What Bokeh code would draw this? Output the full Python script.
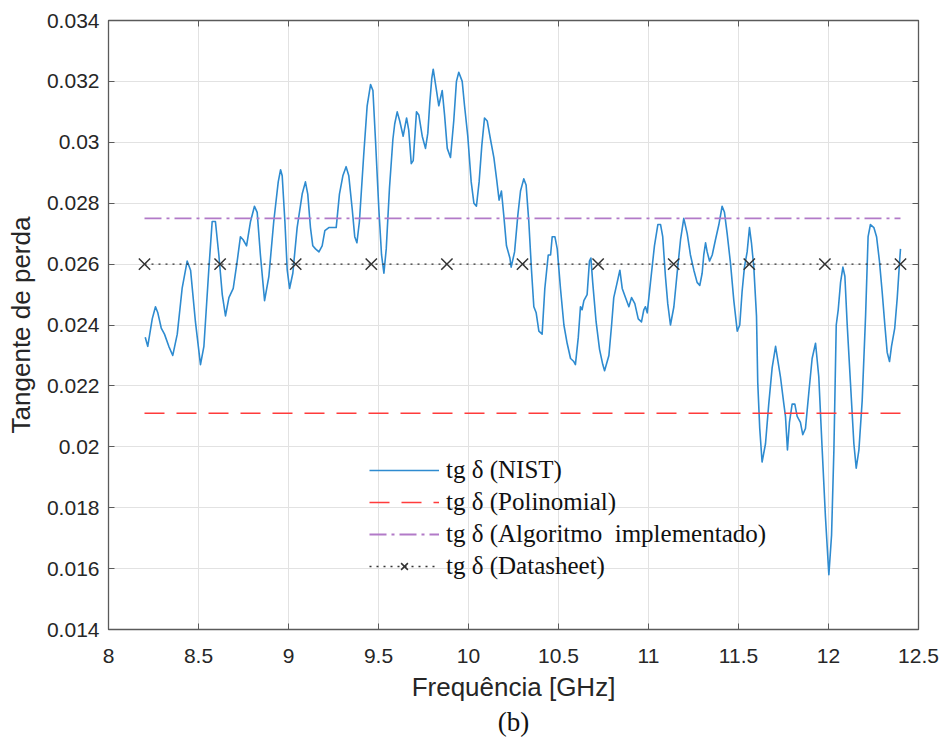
from bokeh.plotting import figure
from bokeh.models import (Range1d, FixedTicker, LinearAxis, CustomJSTickFormatter,
                          Legend, LegendItem, Title)
from bokeh.embed import file_html
from bokeh.resources import INLINE

# ---------------- data ----------------
nist_freq = [8.204, 8.218, 8.243, 8.261, 8.274, 8.293, 8.311, 8.335, 8.357, 8.382,
             8.409, 8.437, 8.456, 8.483, 8.511, 8.530, 8.557, 8.576, 8.594, 8.613,
             8.632, 8.650, 8.669, 8.693, 8.715, 8.733, 8.748, 8.767, 8.789, 8.811,
             8.826, 8.844, 8.867, 8.891, 8.918, 8.943, 8.956, 8.965, 8.980, 8.993,
             9.006, 9.024, 9.048, 9.076, 9.094, 9.107, 9.122, 9.135, 9.150, 9.169,
             9.187, 9.202, 9.224, 9.243, 9.265, 9.283, 9.302, 9.320, 9.335, 9.354,
             9.368, 9.380, 9.394, 9.418, 9.437, 9.456, 9.469, 9.483, 9.502, 9.517,
             9.530, 9.543, 9.561, 9.580, 9.590, 9.604, 9.618, 9.637, 9.656, 9.668,
             9.682, 9.693, 9.711, 9.724, 9.743, 9.761, 9.774, 9.785, 9.796, 9.804,
             9.817, 9.835, 9.854, 9.867, 9.882, 9.900, 9.918, 9.933, 9.946, 9.965,
             9.978, 9.996, 10.015, 10.030, 10.044, 10.059, 10.074, 10.089, 10.104, 10.122,
             10.141, 10.156, 10.170, 10.183, 10.196, 10.211, 10.230, 10.237, 10.256, 10.274,
             10.289, 10.307, 10.320, 10.335, 10.350, 10.363, 10.376, 10.391, 10.409, 10.424,
             10.443, 10.456, 10.465, 10.480, 10.493, 10.511, 10.530, 10.548, 10.567, 10.585,
             10.594, 10.610, 10.622, 10.631, 10.641, 10.659, 10.672, 10.680, 10.690, 10.709,
             10.728, 10.746, 10.756, 10.780, 10.795, 10.807, 10.826, 10.841, 10.854, 10.872,
             10.891, 10.906, 10.924, 10.943, 10.961, 10.974, 10.983, 10.993, 11.011, 11.033,
             11.052, 11.067, 11.079, 11.094, 11.107, 11.122, 11.141, 11.159, 11.178, 11.196,
             11.215, 11.233, 11.252, 11.270, 11.285, 11.298, 11.307, 11.317, 11.326, 11.339,
             11.354, 11.372, 11.391, 11.409, 11.422, 11.437, 11.456, 11.474, 11.493, 11.507,
             11.520, 11.533, 11.548, 11.561, 11.572, 11.585, 11.600, 11.607, 11.618, 11.631,
             11.650, 11.668, 11.687, 11.706, 11.733, 11.752, 11.761, 11.772, 11.783, 11.798,
             11.813, 11.826, 11.844, 11.857, 11.872, 11.891, 11.909, 11.928, 11.946, 11.965,
             11.983, 12.002, 12.017, 12.030, 12.043, 12.054, 12.067, 12.080, 12.091, 12.104,
             12.122, 12.141, 12.154, 12.169, 12.187, 12.206, 12.220, 12.233, 12.252, 12.267,
             12.283, 12.298, 12.313, 12.326, 12.339, 12.350, 12.368, 12.382, 12.394, 12.400]

nist_tan = [0.0236, 0.0233, 0.0242, 0.0246, 0.0244, 0.0239, 0.0237, 0.0233, 0.0230, 0.0237,
            0.0252, 0.0261, 0.0258, 0.0241, 0.0227, 0.0233, 0.0258, 0.0274, 0.0274, 0.0263,
            0.0250, 0.0243, 0.0249, 0.0252, 0.0261, 0.0269, 0.0268, 0.0266, 0.0274, 0.0279,
            0.0277, 0.0263, 0.0248, 0.0256, 0.0274, 0.0287, 0.0291, 0.0289, 0.0274, 0.0258,
            0.0252, 0.0257, 0.0272, 0.0283, 0.0287, 0.0283, 0.0272, 0.0266, 0.0265, 0.0264,
            0.0266, 0.0271, 0.0272, 0.0272, 0.0272, 0.0283, 0.0289, 0.0292, 0.0289, 0.0278,
            0.0269, 0.0267, 0.0274, 0.0296, 0.0312, 0.0319, 0.0317, 0.0301, 0.0278, 0.0263,
            0.0257, 0.0265, 0.0285, 0.0301, 0.0306, 0.0310, 0.0307, 0.0302, 0.0308, 0.0304,
            0.0293, 0.0294, 0.0310, 0.0309, 0.0302, 0.0298, 0.0303, 0.0313, 0.0321, 0.0324,
            0.0319, 0.0312, 0.0317, 0.0309, 0.0298, 0.0295, 0.0307, 0.0320, 0.0323, 0.0320,
            0.0312, 0.0302, 0.0287, 0.0280, 0.0279, 0.0287, 0.0299, 0.0308, 0.0307, 0.0301,
            0.0295, 0.0288, 0.0281, 0.0284, 0.0276, 0.0266, 0.0262, 0.0259, 0.0264, 0.0276,
            0.0284, 0.0288, 0.0286, 0.0274, 0.0258, 0.0246, 0.0244, 0.0238, 0.0237, 0.0252,
            0.0263, 0.0263, 0.0269, 0.0269, 0.0265, 0.0252, 0.0240, 0.0234, 0.0229, 0.0228,
            0.0227, 0.0236, 0.0246, 0.0245, 0.0248, 0.0250, 0.0261, 0.0262, 0.0254, 0.0241,
            0.0232, 0.0227, 0.0225, 0.0230, 0.0240, 0.0249, 0.0254, 0.0258, 0.0252, 0.0249,
            0.0246, 0.0249, 0.0247, 0.0242, 0.0241, 0.0245, 0.0246, 0.0244, 0.0254, 0.0266,
            0.0273, 0.0273, 0.0269, 0.0256, 0.0247, 0.0240, 0.0246, 0.0257, 0.0268, 0.0275,
            0.0270, 0.0263, 0.0258, 0.0254, 0.0253, 0.0257, 0.0263, 0.0267, 0.0264, 0.0261,
            0.0263, 0.0268, 0.0273, 0.0279, 0.0277, 0.0270, 0.0260, 0.0248, 0.0238, 0.0240,
            0.0251, 0.0259, 0.0264, 0.0272, 0.0267, 0.0259, 0.0243, 0.0221, 0.0206, 0.0195,
            0.0201, 0.0214, 0.0226, 0.0233, 0.0223, 0.0214, 0.0210, 0.0199, 0.0208, 0.0214,
            0.0214, 0.0210, 0.0208, 0.0204, 0.0206, 0.0218, 0.0229, 0.0234, 0.0223, 0.0199,
            0.0177, 0.0158, 0.0171, 0.0199, 0.0240, 0.0245, 0.0254, 0.0259, 0.0256, 0.0240,
            0.0221, 0.0201, 0.0193, 0.0199, 0.0215, 0.0243, 0.0269, 0.0273, 0.0272, 0.0269,
            0.0261, 0.0251, 0.0240, 0.0231, 0.0228, 0.0233, 0.0239, 0.0249, 0.0260, 0.0265]

poly_freq = [8.2, 12.4]
poly_tan = [0.0211, 0.0211]

algo_freq = [8.2, 12.4]
algo_tan = [0.0275, 0.0275]

datasheet_freq = [8.2, 8.62, 9.04, 9.46, 9.88, 10.3, 10.72, 11.14, 11.56, 11.98, 12.4]
datasheet_tan = [0.026] * 11

x_ticks = [8, 8.5, 9, 9.5, 10, 10.5, 11, 11.5, 12, 12.5]
y_ticks = [0.014, 0.016, 0.018, 0.020, 0.022, 0.024, 0.026, 0.028, 0.030, 0.032, 0.034]

labels = ["tg \u03b4 (NIST)", "tg \u03b4 (Polinomial)",
          "tg \u03b4 (Algoritmo  implementado)", "tg \u03b4 (Datasheet)"]

# ---------------- figure ----------------
p = figure(width=943, height=738,
           x_range=Range1d(8, 12.5), y_range=Range1d(0.014, 0.034),
           output_backend="svg", toolbar_location=None,
           min_border_left=108, min_border_right=25,
           min_border_top=20, min_border_bottom=109,
           x_axis_label="Frequência [GHz]", y_axis_label="Tangente de perda")
p.background_fill_color = "white"
p.border_fill_color = "white"
p.outline_line_color = "#5a5a5a"
p.outline_line_width = 1.3

fmt = CustomJSTickFormatter(code="return String(parseFloat(tick.toFixed(4)));")

for ax, ticks in ((p.xaxis[0], x_ticks), (p.yaxis[0], y_ticks)):
    ax.ticker = FixedTicker(ticks=ticks)
    ax.formatter = fmt
    ax.major_tick_in = 6
    ax.major_tick_out = 0
    ax.minor_tick_in = 0
    ax.minor_tick_out = 0
    ax.axis_line_color = "#5a5a5a"
    ax.major_tick_line_color = "#5a5a5a"
    ax.major_label_text_font = "Liberation Sans"
    ax.major_label_text_font_size = "21px"
    ax.major_label_text_color = "#262626"
    ax.axis_label_text_font = "Liberation Sans"
    ax.axis_label_text_font_size = "26px"
    ax.axis_label_text_font_style = "normal"
    ax.axis_label_text_color = "#262626"

p.xaxis[0].major_label_standoff = 19
p.xaxis[0].axis_label_standoff = 6
p.yaxis[0].major_label_standoff = 9
p.yaxis[0].axis_label_standoff = 8

# box ticks on the top and right edges (no labels)
blank = CustomJSTickFormatter(code="return '';")
for loc, ticks in (("above", x_ticks), ("right", y_ticks)):
    a = LinearAxis(ticker=FixedTicker(ticks=ticks), formatter=blank,
                   major_tick_in=6, major_tick_out=0, minor_tick_in=0, minor_tick_out=0,
                   axis_line_color="#5a5a5a", major_tick_line_color="#5a5a5a",
                   major_label_standoff=0, major_label_text_font_size="1px")
    p.add_layout(a, loc)

p.xgrid.ticker = FixedTicker(ticks=x_ticks)
p.ygrid.ticker = FixedTicker(ticks=y_ticks)
p.grid.grid_line_color = "#e2e2e2"
p.grid.grid_line_width = 1

# ---------------- glyphs ----------------
r_nist = p.line(nist_freq, nist_tan, line_color="#2E8BD0", line_width=1.6,
                line_join="round")
r_poly = p.line(poly_freq, poly_tan, line_color="#FF3B3B", line_width=1.6,
                line_dash="20 12")
r_algo = p.line(algo_freq, algo_tan, line_color="#B27AC8", line_width=1.8,
                line_dash="17 5 3 5")
r_ds_line = p.line(datasheet_freq, datasheet_tan, line_color="#333333", line_width=1.3,
                   line_dash="2 5")
r_ds_mark = p.scatter(datasheet_freq, datasheet_tan, marker="x", size=16,
                      line_color="#333333", line_width=1.5)

legend = Legend(items=[LegendItem(label=labels[0], renderers=[r_nist]),
                       LegendItem(label=labels[1], renderers=[r_poly]),
                       LegendItem(label=labels[2], renderers=[r_algo]),
                       LegendItem(label=labels[3], renderers=[r_ds_line, r_ds_mark])],
                location=(257, 45),
                label_text_font="Liberation Serif", label_text_font_size="25px",
                label_text_color="#111111",
                glyph_width=70, glyph_height=24, label_height=24, spacing=4,
                padding=4, margin=0, label_standoff=7,
                border_line_alpha=0, background_fill_alpha=0)
p.add_layout(legend)

cap = Title(text="(b)", align="center", text_font="Liberation Serif",
            text_font_size="27px", text_font_style="normal", text_color="#111111",
            standoff=0, offset=0)
p.add_layout(cap, "below")

open("out.html", "w").write(file_html(p, INLINE))
